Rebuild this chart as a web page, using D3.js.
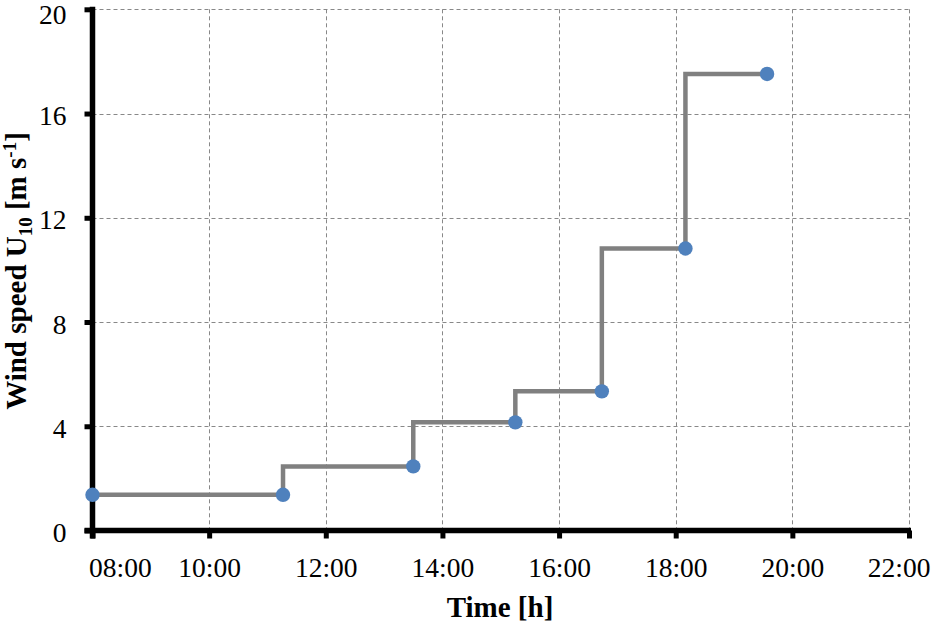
<!DOCTYPE html>
<html>
<head>
<meta charset="utf-8">
<script src="https://cdn.jsdelivr.net/npm/d3@7"></script>
<style>
  html, body { margin: 0; padding: 0; background: #fff; }
  svg { display: block; }
  text { font-family: "Liberation Serif", "Times New Roman", serif; fill: #000; }
</style>
</head>
<body>
<svg id="chart" width="941" height="635"></svg>
<script>
// ---- data ----
const times = ["08:00", "11:16", "13:30", "15:15", "16:44", "18:10", "19:34"];
const windSpeed = [1.37, 1.37, 2.46, 4.15, 5.34, 10.82, 17.52];
const xTickLabels = ["08:00", "10:00", "12:00", "14:00", "16:00", "18:00", "20:00", "22:00"];
const yTickValues = [0, 4, 8, 12, 16, 20];

// ---- layout ----
const plotLeft = 92.5, plotRight = 909, plotTop = 9.3, plotBottom = 530.5;

const parse = s => { const [h, m] = s.split(":").map(Number); return new Date(2000, 0, 1, h, m); };
const data = times.map((t, i) => ({ t: parse(t), v: windSpeed[i] }));
const xTicks = xTickLabels.map(parse);

const x = d3.scaleTime().domain([parse("08:00"), parse("22:00")]).range([plotLeft, plotRight]);
const y = d3.scaleLinear().domain([0, 20]).range([plotBottom, plotTop]);

const svg = d3.select("#chart");

// grid
const grid = svg.append("g").attr("stroke", "#888").attr("stroke-width", 1).attr("stroke-dasharray", "4,3");
grid.selectAll("line.v").data(xTicks.slice(1)).join("line")
  .attr("x1", d => Math.round(x(d)) + 0.5).attr("x2", d => Math.round(x(d)) + 0.5)
  .attr("y1", plotTop).attr("y2", plotBottom);
grid.selectAll("line.h").data(yTickValues.slice(1)).join("line")
  .attr("y1", d => Math.round(y(d)) + 0.5).attr("y2", d => Math.round(y(d)) + 0.5)
  .attr("x1", plotLeft).attr("x2", plotRight);

// axes
const xAxis = d3.axisBottom(x).tickValues(xTicks).tickFormat(d3.timeFormat("%H:%M")).tickSize(8).tickPadding(18);
const yAxis = d3.axisLeft(y).tickValues(yTickValues).tickFormat(d3.format("d")).tickSize(8).tickPadding(18);

const gx = svg.append("g").attr("transform", `translate(0,${plotBottom})`).call(xAxis);
const gy = svg.append("g").attr("transform", `translate(${plotLeft},0)`).call(yAxis);

[gx, gy].forEach(g => {
  g.select(".domain").remove();
  g.selectAll(".tick line").attr("stroke", "#000").attr("stroke-width", 5);
  g.selectAll(".tick text").style("font-family", '"Liberation Serif", serif').style("font-size", "27.5px").attr("fill", "#000");
});
gx.selectAll(".tick text").attr("dy", null).attr("y", 46);
// first and last labels are pushed inward so they fit inside the picture
const nX = xTicks.length;
gx.selectAll(".tick text").each(function (d, i) {
  if (i === 0) d3.select(this).attr("text-anchor", "start").attr("x", -4);
  if (i === nX - 1) d3.select(this).attr("text-anchor", "end").attr("x", 21);
});
gy.selectAll(".tick text").attr("dy", "0.4em").attr("x", -26);
// keep the top label inside the picture
gy.selectAll(".tick text").filter(d => d === 20).attr("dy", "0.52em");

// axis lines
svg.append("line").attr("x1", plotLeft - 8).attr("x2", plotRight + 2).attr("y1", plotBottom).attr("y2", plotBottom)
  .attr("stroke", "#000").attr("stroke-width", 5.5);
svg.append("line").attr("x1", plotLeft).attr("x2", plotLeft).attr("y1", plotTop - 2.5).attr("y2", plotBottom + 8)
  .attr("stroke", "#000").attr("stroke-width", 5.5);

// step line
const line = d3.line().x(d => x(d.t)).y(d => y(d.v)).curve(d3.curveStepBefore);
svg.append("path").datum(data).attr("d", line)
  .attr("fill", "none").attr("stroke", "#808080").attr("stroke-width", 4.5).attr("stroke-linejoin", "miter");

// markers
svg.append("g").selectAll("circle").data(data).join("circle")
  .attr("cx", d => x(d.t)).attr("cy", d => y(d.v)).attr("r", 7.2).attr("fill", "#4F81BD");

// titles
svg.append("text").attr("x", 500).attr("y", 617).attr("text-anchor", "middle")
  .style("font-size", "29px").style("font-weight", "bold").text("Time [h]");

const yt = svg.append("text").attr("transform", "translate(26,271) rotate(-90)").attr("text-anchor", "middle")
  .style("font-size", "29px").style("font-weight", "bold");
yt.append("tspan").text("Wind speed U");
yt.append("tspan").attr("dy", 6).style("font-size", "19px").text("10");
yt.append("tspan").attr("dy", -6).text(" [m s");
yt.append("tspan").attr("dy", -10).style("font-size", "19px").text("-1");
yt.append("tspan").attr("dy", 10).text("]");
</script>
</body>
</html>
